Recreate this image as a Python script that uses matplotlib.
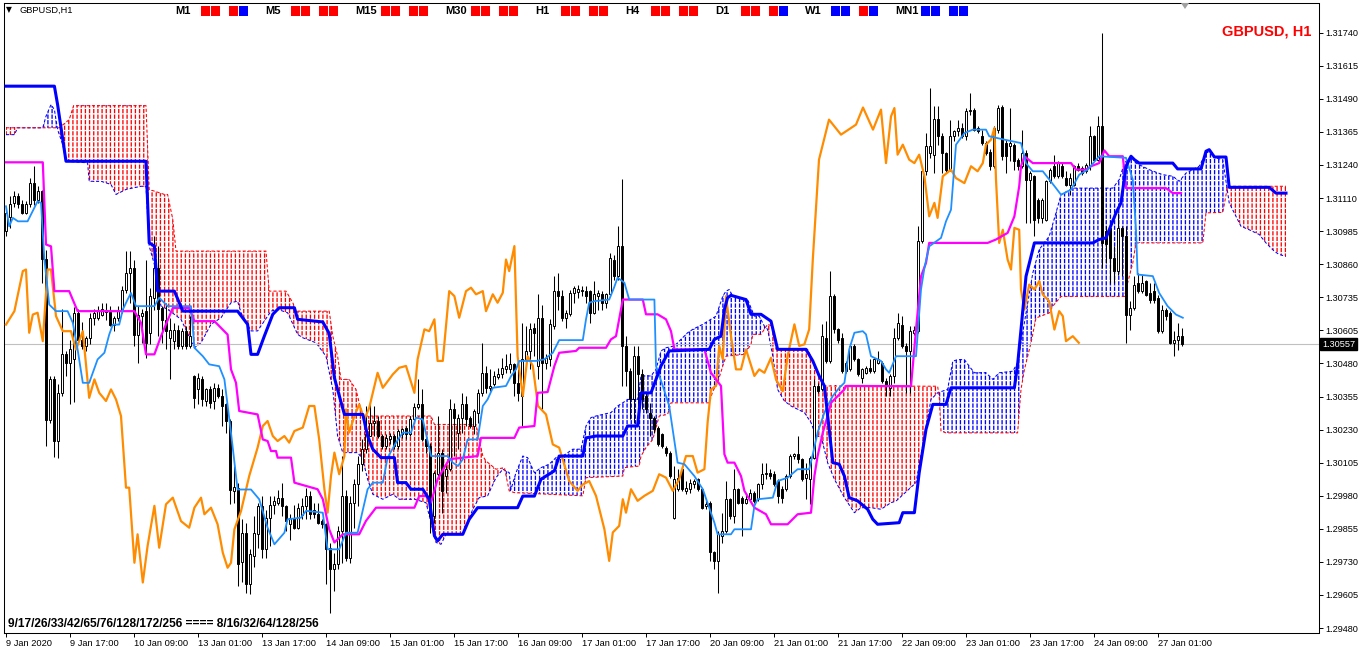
import numpy as np
import matplotlib
matplotlib.use("Agg")
import matplotlib.pyplot as plt
from matplotlib.patches import Polygon, Rectangle

W, H = 1366, 655
BASE = 1.29      # every series below is in pips above 1.29000
PIP = 0.0001

# ---- GBPUSD H1 candles, bar 0 = 9 Jan 2020 01:00 ----
opens = [
    198.6, 204.0, 209.4, 212.0, 209.0, 205.5, 209.0, 217.0, 210.6, 213.8,
    188.0, 127.0, 142.4, 119.0, 137.3, 152.0, 148.7, 150.0, 167.6, 157.5,
    155.0, 158.2, 165.8, 165.8, 167.0, 168.9, 168.0, 163.2, 165.8, 168.3,
    176.5, 182.8, 184.7, 159.4, 166.4, 168.3, 160.0, 173.3, 184.7, 169.5,
    165.1, 158.2, 157.0, 161.3, 155.0, 160.7, 155.0, 143.6, 138.6, 142.4,
    134.2, 138.6, 134.2, 139.2, 136.0, 132.9, 126.6, 100.0, 101.0, 73.0,
    84.2, 64.6, 75.4, 83.6, 94.4, 77.9, 89.9, 94.9, 95.6, 97.5,
    94.4, 87.4, 89.9, 86.1, 91.0, 94.4, 98.1, 93.0, 91.2, 88.6,
    87.4, 78.5, 70.3, 72.2, 84.8, 98.1, 74.7, 95.6, 102.5, 110.2,
    115.8, 121.0, 126.0, 126.6, 120.9, 117.1, 119.6, 120.9, 117.1, 121.5,
    124.0, 121.5, 127.4, 132.0, 132.9, 119.6, 117.1, 90.6, 106.4, 114.6,
    105.7, 108.3, 131.0, 122.2, 127.9, 132.9, 127.9, 124.7, 129.8, 137.3,
    144.9, 139.2, 140.5, 143.3, 144.3, 146.2, 146.2, 148.1, 141.1, 136.1,
    150.0, 153.2, 162.0, 147.5, 165.8, 148.7, 150.0, 162.6, 175.9, 174.0,
    165.8, 167.1, 175.3, 175.5, 176.0, 175.9, 175.9, 167.7, 174.0, 174.7,
    171.5, 174.7, 187.9, 181.6, 193.0, 155.1, 145.5, 134.8, 151.2, 144.3,
    136.1, 129.8, 127.9, 124.0, 121.5, 116.5, 114.6, 89.9, 100.7, 108.3,
    100.1, 100.7, 102.6, 104.5, 100.7, 94.4, 95.6, 76.7, 73.5, 82.9,
    84.8, 96.9, 90.5, 100.7, 97.5, 95.6, 96.9, 99.4, 96.9, 102.6,
    106.4, 106.7, 106.4, 103.8, 100.7, 100.7, 105.7, 113.3, 113.9, 112.1,
    105.1, 104.5, 112.7, 139.9, 138.6, 158.2, 149.4, 174.0, 161.4, 158.2,
    145.5, 146.2, 155.1, 150.0, 143.0, 144.9, 146.8, 145.5, 148.7, 148.7,
    141.7, 139.2, 143.6, 158.2, 163.2, 155.0, 153.1, 160.1, 160.7, 194.8,
    221.4, 228.4, 227.7, 241.2, 234.7, 228.3, 222.0, 234.7, 236.5, 237.8,
    234.7, 244.1, 244.7, 237.8, 234.7, 232.1, 228.9, 223.3, 237.2, 245.8,
    232.1, 231.0, 231.5, 225.8, 223.3, 228.3, 218.2, 219.5, 210.6, 203.7,
    203.0, 217.6, 223.3, 219.5, 223.3, 218.9, 216.3, 216.3, 223.3, 222.6,
    221.4, 223.3, 234.7, 225.8, 238.4, 198.6, 199.9, 188.5, 183.4, 199.9,
    197.0, 167.0, 169.5, 179.0, 175.9, 179.7, 175.2, 175.9, 173.3, 160.7,
    168.9, 167.6, 156.3, 157.5, 158.8,
]
highs = [
    208.0, 212.0, 214.0, 213.0, 210.6, 210.0, 219.0, 223.3, 215.7, 214.4,
    191.7, 143.6, 143.6, 140.5, 169.0, 153.2, 157.5, 170.0, 169.0, 164.0,
    158.8, 167.6, 169.0, 170.2, 171.4, 171.4, 170.2, 166.4, 170.2, 177.8,
    191.0, 191.0, 187.9, 170.2, 169.0, 187.9, 177.0, 196.7, 193.0, 170.2,
    171.4, 165.8, 163.9, 163.2, 162.0, 162.6, 166.4, 144.2, 144.9, 143.6,
    139.2, 139.9, 141.0, 140.5, 138.6, 133.5, 127.2, 109.5, 103.2, 89.3,
    88.0, 77.9, 90.6, 95.6, 98.1, 93.0, 98.1, 98.1, 100.6, 103.2,
    94.9, 91.2, 94.9, 95.6, 97.5, 101.3, 100.0, 95.6, 95.6, 89.3,
    88.0, 80.4, 76.6, 86.7, 113.3, 100.6, 98.1, 104.5, 113.3, 119.6,
    132.3, 133.0, 132.3, 128.5, 121.5, 121.5, 122.2, 121.5, 123.4, 124.0,
    124.7, 128.5, 133.5, 142.4, 138.6, 120.9, 118.3, 107.6, 128.5, 115.9,
    110.8, 134.8, 133.5, 129.1, 137.3, 136.1, 128.5, 131.0, 138.6, 156.3,
    147.5, 146.2, 145.5, 146.8, 150.6, 151.9, 152.5, 148.7, 146.2, 163.9,
    162.6, 163.9, 163.9, 174.7, 170.8, 151.9, 165.2, 181.6, 182.8, 176.5,
    168.9, 176.5, 177.8, 178.4, 177.8, 177.8, 176.5, 179.7, 176.5, 175.9,
    175.3, 190.4, 189.8, 200.6, 218.3, 158.8, 146.8, 155.1, 155.1, 146.2,
    137.3, 133.5, 128.5, 124.7, 122.2, 117.1, 115.2, 109.5, 108.3, 108.9,
    103.8, 104.5, 104.5, 105.1, 101.3, 96.2, 96.2, 77.3, 84.8, 91.8,
    103.8, 97.5, 108.3, 101.3, 98.1, 99.4, 100.7, 100.1, 103.2, 110.8,
    110.8, 108.3, 107.6, 104.5, 101.9, 106.4, 113.9, 114.6, 120.9, 112.7,
    110.8, 113.3, 142.4, 141.1, 163.3, 164.5, 183.5, 174.7, 162.0, 160.1,
    149.4, 155.7, 155.7, 150.6, 146.8, 147.5, 150.0, 150.6, 153.2, 149.4,
    143.0, 144.3, 162.0, 167.6, 166.4, 156.3, 162.6, 162.6, 200.5, 222.0,
    235.9, 253.0, 246.0, 246.0, 235.9, 228.9, 241.0, 237.2, 241.0, 239.7,
    245.4, 251.1, 245.4, 238.4, 237.2, 232.7, 229.7, 238.4, 246.7, 246.7,
    233.4, 245.4, 232.1, 226.4, 237.2, 229.6, 221.4, 220.1, 211.3, 211.3,
    218.2, 222.6, 227.7, 225.2, 224.5, 221.4, 220.7, 223.9, 224.5, 223.3,
    224.5, 238.4, 235.3, 242.2, 273.8, 200.5, 201.1, 192.9, 205.6, 200.5,
    200.5, 172.1, 181.6, 182.8, 182.2, 180.3, 179.0, 179.0, 174.6, 170.8,
    169.5, 168.3, 160.7, 163.9, 161.9,
]
lows = [
    197.0, 200.0, 208.0, 207.5, 205.0, 205.0, 208.0, 208.7, 209.4, 179.0,
    117.0, 126.0, 113.0, 112.7, 136.0, 143.6, 132.9, 134.0, 156.0, 153.8,
    153.0, 155.7, 163.0, 165.0, 166.4, 165.0, 162.6, 160.7, 164.5, 167.6,
    175.2, 171.4, 155.0, 148.7, 156.3, 150.6, 156.0, 168.9, 158.8, 156.3,
    153.8, 142.4, 154.0, 153.8, 153.8, 153.8, 154.4, 131.6, 132.9, 132.2,
    132.2, 131.6, 131.0, 135.4, 124.7, 122.2, 95.0, 95.5, 64.0, 65.3,
    61.4, 60.8, 71.0, 78.5, 74.7, 74.7, 79.2, 91.2, 94.9, 90.6,
    84.8, 81.6, 85.5, 85.5, 89.3, 89.3, 89.3, 89.9, 87.4, 86.0,
    64.6, 53.9, 62.0, 70.3, 72.8, 73.5, 72.8, 86.1, 94.4, 107.6,
    114.6, 120.9, 120.9, 120.3, 115.8, 115.8, 117.7, 115.8, 115.8, 120.3,
    119.6, 120.9, 126.0, 131.0, 119.0, 114.6, 84.2, 88.0, 105.7, 91.8,
    99.4, 107.6, 113.3, 115.9, 122.2, 124.7, 124.0, 121.5, 126.0, 136.1,
    137.3, 137.9, 139.9, 142.4, 143.0, 144.9, 144.9, 136.1, 134.2, 124.7,
    147.5, 146.2, 151.2, 142.4, 131.0, 146.2, 147.5, 161.4, 168.9, 164.5,
    162.0, 166.4, 171.5, 173.4, 174.0, 171.5, 163.9, 167.1, 168.9, 168.9,
    169.5, 174.0, 180.3, 180.3, 139.9, 139.9, 127.2, 126.0, 131.0, 131.0,
    129.8, 120.9, 122.2, 117.1, 116.5, 113.3, 105.1, 89.3, 100.1, 100.1,
    98.8, 99.4, 101.3, 100.1, 93.1, 93.1, 73.5, 70.3, 61.5, 80.4,
    84.2, 89.3, 88.0, 95.0, 83.0, 95.0, 96.2, 95.6, 96.2, 100.7,
    104.5, 104.5, 101.9, 95.6, 95.6, 100.1, 105.1, 112.1, 110.8, 103.8,
    96.9, 95.0, 112.1, 137.3, 137.9, 148.7, 148.7, 160.1, 156.3, 144.9,
    144.9, 145.5, 149.4, 143.6, 141.1, 144.3, 144.9, 144.9, 148.1, 141.1,
    136.1, 136.1, 141.1, 157.5, 154.4, 137.3, 137.3, 159.4, 160.1, 194.2,
    220.1, 226.4, 220.7, 231.5, 220.7, 220.7, 221.4, 232.7, 234.7, 234.0,
    233.4, 242.9, 236.5, 235.9, 231.5, 227.7, 222.0, 222.6, 235.9, 225.8,
    220.7, 225.2, 222.0, 222.0, 222.6, 201.8, 201.8, 196.7, 201.8, 201.8,
    202.4, 217.0, 218.9, 218.9, 218.9, 215.7, 212.5, 215.7, 221.4, 220.1,
    220.7, 222.0, 225.2, 225.2, 184.7, 186.6, 179.0, 179.0, 182.2, 181.6,
    156.3, 161.3, 168.9, 175.2, 175.2, 173.9, 171.4, 171.4, 160.1, 160.1,
    165.1, 155.7, 151.2, 153.7, 155.0,
]
closes = [
    205.6, 209.0, 212.0, 209.0, 205.5, 209.0, 217.0, 210.6, 213.8, 188.0,
    127.0, 142.4, 119.0, 137.3, 152.0, 148.7, 153.8, 167.6, 157.5, 155.0,
    158.2, 165.8, 167.6, 168.3, 169.2, 168.0, 163.2, 165.8, 168.3, 176.5,
    182.8, 184.7, 159.4, 167.0, 167.6, 156.3, 173.9, 184.7, 169.2, 165.1,
    160.7, 161.3, 161.3, 155.0, 160.7, 155.0, 158.8, 135.4, 143.0, 134.8,
    138.6, 133.5, 139.2, 136.0, 132.2, 126.6, 100.6, 101.5, 72.2, 84.2,
    64.6, 76.0, 84.2, 94.4, 77.9, 89.9, 94.9, 96.2, 97.5, 94.4,
    88.6, 89.9, 86.1, 93.7, 94.4, 98.1, 91.2, 91.2, 88.0, 87.4,
    77.9, 70.3, 72.2, 84.8, 98.1, 74.7, 95.6, 102.5, 110.2, 115.8,
    121.5, 126.0, 126.6, 120.9, 117.1, 120.3, 120.9, 117.1, 122.8, 123.6,
    121.5, 127.4, 132.0, 132.9, 119.6, 117.1, 90.6, 107.0, 114.6, 100.1,
    108.3, 131.0, 127.9, 127.9, 132.9, 127.2, 124.7, 130.4, 137.3, 144.9,
    139.2, 139.9, 143.6, 144.6, 146.8, 147.5, 148.1, 141.1, 137.3, 150.0,
    153.2, 161.4, 160.1, 165.8, 148.7, 150.6, 163.3, 175.9, 174.0, 165.8,
    167.7, 175.3, 177.2, 176.6, 176.5, 174.0, 167.7, 174.7, 175.3, 171.5,
    174.7, 188.6, 181.6, 193.0, 155.1, 145.5, 134.8, 151.2, 144.3, 134.8,
    131.0, 127.9, 123.4, 117.7, 117.1, 114.6, 105.7, 104.5, 105.1, 100.7,
    101.3, 103.2, 103.8, 100.7, 93.7, 95.0, 76.7, 73.5, 83.6, 84.8,
    96.9, 90.5, 100.7, 95.6, 95.6, 96.9, 99.4, 96.2, 102.6, 106.4,
    107.0, 105.7, 102.6, 98.1, 97.5, 105.7, 113.3, 113.9, 112.1, 104.5,
    106.4, 112.7, 139.9, 137.9, 158.8, 149.4, 174.0, 161.4, 157.5, 145.5,
    148.7, 155.1, 150.0, 144.3, 146.2, 146.8, 145.5, 150.0, 150.2, 141.7,
    139.9, 143.6, 158.2, 163.9, 155.0, 153.1, 160.7, 161.3, 194.8, 221.4,
    230.9, 231.0, 241.2, 234.7, 228.3, 222.0, 234.7, 236.5, 237.8, 234.7,
    244.1, 244.7, 237.2, 236.5, 232.1, 228.3, 223.3, 237.8, 245.4, 227.1,
    227.1, 232.1, 225.2, 223.3, 228.3, 218.2, 220.7, 203.0, 203.7, 210.6,
    217.6, 222.0, 219.5, 224.5, 219.5, 216.3, 218.9, 223.3, 222.0, 220.7,
    223.9, 234.7, 225.8, 238.4, 194.2, 193.6, 188.5, 183.4, 199.9, 197.0,
    167.0, 169.5, 178.4, 175.9, 179.0, 174.6, 172.7, 172.7, 160.7, 168.9,
    166.4, 156.3, 157.5, 158.8, 155.7,
]

# ---- indicator lines, vertices as (bar index, pips) ----
blue_x = [0, 12.1, 12.9, 15, 35, 35.8, 37.1, 37.9, 42.1, 44.2, 57.9, 60.4, 61.25, 62.9, 64.6,
          66.7, 68.3, 72.1, 72.9, 79.2, 80.8, 82.1, 84.6, 89.2, 90.4, 91.7, 93.75, 97.1, 97.9,
          100, 101.25, 104.2, 105.8, 107.1, 107.9, 109.2, 114.2, 115.8, 117.9, 127.9, 129.2,
          132.1, 133.75, 137.1, 138.3, 144.2, 145, 147.5, 154.2, 155.4, 157.9, 158.75, 161.25,
          163.75, 165.8, 175.8, 177.1, 178.75, 179.6, 180.4, 181.25, 185, 186.25, 188.75,
          191.25, 192.9, 200, 201.7, 203.3, 204.6, 205.8, 206.7, 208.3, 209.6, 210.8, 212.9,
          215.4, 216.7, 217.9, 223.3, 224.2, 227.1, 228.3, 230, 231.7, 235, 236.25, 252.1,
          252.9, 253.75, 255, 257.1, 271.7, 273.3, 275, 277.5, 278.75, 280, 281.25, 282.1,
          283.3, 291.7, 292.9, 298.75, 300, 300.8, 302.1, 305, 305.8, 315.8, 317.5, 320]
blue_y = [253.7, 253.7, 246.7, 225.2, 225.2, 194.2, 193.0, 175.9, 175.9, 168.3, 168.3, 163.3,
          151.9, 151.9, 158.9, 167.1, 169.6, 169.6, 165.2, 164.2, 159.8, 143.0, 129.1, 129.1,
          120.9, 115.9, 112.7, 112.7, 103.2, 103.2, 100.7, 100.7, 96.9, 83.0, 81.1, 83.6, 83.6,
          89.3, 93.7, 93.7, 98.1, 98.1, 104.5, 107.7, 113.3, 113.3, 120.2, 120.9, 120.9, 124.7,
          124.7, 137.3, 137.3, 147.5, 153.2, 153.8, 157.6, 158.8, 168.9, 173.4, 174.3, 172.7,
          167.1, 167.1, 164.5, 153.8, 153.8, 149.4, 143.7, 139.9, 123.4, 110.8, 110.2, 105.7,
          97.5, 96.3, 93.1, 89.3, 87.4, 88.0, 91.8, 91.8, 107.0, 123.4, 132.9, 132.9, 139.2,
          139.2, 148.0, 161.3, 181.5, 194.2, 194.2, 195.5, 196.1, 205.6, 209.4, 223.3, 227.1,
          225.8, 224.5, 224.5, 222.3, 222.3, 229.0, 229.6, 226.8, 226.8, 215.3, 215.3, 213.1,
          213.1]

magenta_x = [0, 9.2, 10, 11.25, 12.1, 15.8, 17.9, 32.1, 33.75, 35, 37.1, 38.75, 41.7, 45.8,
             47.1, 52.1, 55.4, 56.25, 57.5, 58.3, 62.9, 64.2, 65.4, 66.25, 67.5, 67.9, 71.25,
             72.1, 77.9, 79.2, 80.8, 82.1, 84.2, 88.3, 90, 92.5, 102.1, 103.3, 105, 106.25,
             107.9, 110.8, 117.9, 118.75, 127.1, 128.3, 132.1, 132.9, 135.4, 137.1, 138.3,
             142.5, 143.3, 150, 151.25, 152.5, 154.2, 159.2, 160, 162.9, 165, 166.25, 167.1,
             174.6, 176.25, 178.75, 179.6, 180.4, 182.1, 183.75, 184.6, 187.1, 190, 191.25,
             195.4, 197.9, 201.25, 202.1, 202.9, 204.2, 205.4, 206.25, 209.6, 210, 226.25,
             227.5, 228.75, 230, 230.8, 245.4, 247.5, 250.4, 252.1, 253.3, 253.75, 254.6,
             256.7, 266.25, 267.5, 270, 271.25, 273.3, 274.6, 275.8, 279.2, 280, 290, 291.7,
             293.75]
magenta_y = [224.8, 224.8, 193.6, 192.9, 175.9, 175.9, 168.3, 168.3, 163.9, 151.9, 151.9,
             158.8, 169.5, 169.5, 164.5, 164.5, 159.4, 146.2, 141.1, 130.4, 129.1, 119.6,
             119.0, 115.2, 115.2, 112.7, 112.7, 103.2, 100.7, 96.9, 85.5, 80.5, 83.6, 83.6,
             88.7, 93.7, 93.7, 98.1, 98.1, 95.6, 104.5, 112.1, 113.3, 120.2, 120.2, 124.1,
             124.7, 137.3, 137.6, 147.5, 152.5, 153.2, 154.4, 154.4, 157.6, 158.8, 172.7,
             172.7, 167.1, 167.1, 165.2, 160.7, 153.8, 153.8, 144.9, 139.9, 114.0, 110.8,
             110.8, 105.7, 100.1, 93.7, 91.2, 87.4, 87.4, 91.2, 91.8, 105.7, 113.3, 122.2,
             128.5, 133.5, 138.6, 139.9, 139.8, 161.3, 181.5, 186.6, 194.2, 194.2, 195.5,
             198.0, 204.3, 215.7, 223.3, 227.1, 224.5, 224.5, 222.0, 222.0, 223.3, 224.5,
             229.3, 227.1, 227.1, 215.0, 215.0, 213.1, 213.1]

tenkan_x = [0, 0.8, 1.7, 3, 5.4, 7.9, 8.75, 9.6, 10.8, 12.5, 15.4, 16.7, 17.9, 19.2, 20.8,
            22.9, 24.6, 25.8, 26.7, 28.3, 29.2, 30.4, 31.25, 32.5, 37.1, 38.3, 40.4, 46.25,
            47.1, 49.2, 50.8, 53.3, 54.6, 56.25, 57.9, 61.25, 63.3, 65.4, 67.1, 69.6, 70.4,
            73.75, 75, 79.2, 80.4, 83.3, 85, 87.9, 90.4, 91.7, 94.2, 95.4, 97.5, 99.2, 101.25,
            102.5, 104.2, 106.25, 110.4, 111.7, 113, 114.2, 115.4, 117.9, 119.2, 120.4, 121.7,
            125, 126.25, 127.5, 128.3, 132.5, 134.6, 136.7, 138.3, 144.2, 145, 145.8, 147.1,
            150.8, 152, 152.9, 154.6, 155.8, 162.1, 162.5, 164.2, 165.8, 167.9, 169.6, 172.1,
            174.2, 177.1, 177.9, 181.25, 182.1, 186.25, 187.1, 187.9, 191.7, 192.9, 195.4,
            197.9, 200.8, 201.7, 202.9, 204.6, 205.8, 206.7, 208.3, 209.6, 210.8, 212.1, 214.2,
            215, 216.25, 218.75, 220, 220.8, 222.5, 227.5, 228.75, 229.6, 230.8, 233.75, 235,
            236.25, 236.7, 237.5, 239.6, 241.7, 245, 245.8, 249.6, 253.75, 255, 256.7, 259.2,
            262.5, 263.75, 266.25, 268.3, 270.4, 273.3, 280, 281.7, 282.5, 282.9, 286.7, 288.3,
            290.4, 292.5, 294.2]
tenkan_y = [208.1, 200.5, 203.7, 202.4, 202.4, 210.0, 209.4, 187.9, 170.8, 168.3, 168.3,
            163.9, 153.8, 141.1, 141.1, 150.0, 152.5, 159.4, 163.2, 163.2, 168.9, 172.7, 175.2,
            170.2, 170.2, 173.4, 170.2, 170.2, 154.4, 151.2, 148.1, 147.4, 142.4, 122.2, 100.6,
            100.6, 96.9, 86.1, 79.8, 84.2, 89.3, 89.9, 92.5, 91.8, 77.9, 77.9, 84.2, 84.2,
            100.7, 103.2, 103.2, 112.7, 118.4, 122.2, 122.2, 127.9, 127.2, 113.3, 113.3, 110.8,
            109.5, 112.1, 119.6, 119.6, 132.3, 134.8, 139.2, 139.9, 143.6, 146.2, 149.4, 149.4,
            150.0, 152.5, 157.3, 157.3, 165.2, 171.5, 172.1, 172.7, 177.2, 181.0, 179.1, 172.7,
            172.7, 147.5, 139.9, 132.3, 110.8, 110.2, 105.7, 100.7, 88.0, 83.6, 83.6, 85.5, 85.5,
            94.4, 96.9, 97.5, 103.8, 105.1, 108.3, 108.3, 114.0, 122.2, 129.8, 133.5, 136.1,
            139.2, 141.1, 153.8, 160.1, 160.7, 159.5, 151.2, 149.4, 146.2, 144.9, 151.2, 151.2,
            176.5, 184.7, 192.9, 196.1, 202.4, 206.8, 215.7, 231.5, 235.9, 237.2, 237.2, 234.7,
            233.4, 232.1, 224.5, 221.4, 221.4, 215.0, 212.5, 214.4, 220.1, 222.0, 227.1, 226.5,
            218.2, 199.2, 182.2, 181.6, 175.2, 170.2, 167.0, 165.8]

chikou_x = [0, 2.1, 4.2, 5, 5.8, 6.7, 7.9, 9.2, 10.4, 11.25, 12.5, 14.2, 16.25, 17.5, 19.2,
            20.8, 22.1, 23.3, 25, 26.25, 27.5, 28.75, 30, 30.8, 32.1, 32.9, 34.2, 35.4, 37.1,
            38.3, 40, 41.7, 43.75, 45.8, 47.1, 48.75, 49.6, 51.25, 52.9, 54.2, 55.4, 56.25,
            57.1, 58.75, 60.8, 62.9, 64.2, 65.4, 66.7, 67.9, 69.6, 70.8, 72.1, 74.2, 75.8, 77.1,
            78.3, 79.6, 80.4, 81.25, 82.1, 83.3, 84.6, 85, 85.8, 87.1, 88.3, 89.6, 90.8, 92.9,
            94.2, 96.7, 98.3, 100, 102.1, 102.9, 104.6, 105.8, 107.1, 107.9, 109.2, 110.8,
            112.1, 113.3, 115, 116.25, 117.5, 119.2, 120, 121.7, 122.9, 124.2, 125, 125.8,
            127.1, 127.9, 129.2, 130.4, 131.7, 133, 135, 136.7, 138.3, 140.8, 142.9, 144.2,
            145.8, 147.5, 149.6, 150.8, 151.7, 153.3, 154.2, 155, 156.25, 157.9, 159.6, 161.7,
            163.3, 165, 166.7, 168.3, 170, 171.7, 172.9, 174.6, 175.4, 176.25, 177.5, 178.3,
            179.2, 180, 181.25, 182.5, 183.75, 185, 187.1, 188.3, 189.6, 191.25, 192.5, 194.2,
            195.4, 197.1, 198.3, 199.6, 200.8, 201.7, 203.25, 205.75, 208.75, 212.5, 214.25,
            216.75, 218.75, 220, 221.25, 222.1, 222.9, 224.2, 225.8, 227.1, 228.3, 229.6, 230.8,
            232.1, 232.9, 234.2, 236.25, 237.5, 239.6, 241.25, 242.9, 244.2, 245, 246.25, 247.1,
            247.5, 248.3, 249.2, 250.4, 251.25, 252.1, 253.3, 253.75, 254.6, 255.8, 257.1,
            258.3, 259.2, 260.8, 262.1, 263.3, 264.2, 265, 266.7, 268.2]
chikou_y = [163.2, 168.3, 183.5, 184.1, 160.1, 167.0, 167.7, 156.9, 184.1, 184.1, 166.4,
            160.7, 160.7, 153.7, 160.7, 135.4, 142.4, 137.3, 134.2, 138.6, 134.8, 128.5, 101.3,
            101.3, 72.8, 83.6, 65.3, 79.2, 94.4, 78.5, 95.0, 97.5, 88.6, 86.1, 93.7, 97.5, 91.2,
            93.7, 87.4, 76.6, 70.9, 72.8, 85.5, 92.4, 105.7, 116.5, 124.7, 126.6, 120.9, 119.0,
            120.9, 118.4, 122.8, 124.1, 132.3, 132.3, 119.6, 100.7, 91.8, 105.7, 114.6, 106.4,
            113.3, 131.0, 122.2, 128.5, 132.9, 127.2, 131.6, 144.9, 139.2, 144.3, 146.8, 147.5,
            137.3, 150.0, 161.4, 160.7, 165.2, 149.4, 149.4, 175.9, 174.0, 165.8, 175.9, 177.2,
            174.7, 175.9, 168.3, 174.7, 171.5, 175.3, 187.9, 183.5, 193.0, 151.2, 136.1, 151.2,
            147.5, 132.3, 129.1, 117.7, 116.5, 103.8, 100.1, 102.5, 103.8, 98.2, 85.5, 73.5,
            84.3, 86.8, 96.9, 91.8, 100.7, 96.3, 98.2, 100.1, 106.4, 105.1, 100.1, 104.5, 113.3,
            113.3, 107.0, 108.3, 126.0, 138.6, 139.9, 155.1, 150.0, 174.0, 158.8, 146.2, 146.2,
            153.8, 143.7, 146.2, 144.9, 150.6, 142.4, 137.9, 151.2, 163.3, 155.1, 155.7, 161.4,
            187.9, 225.8, 241.0, 235.3, 239.1, 245.6, 237.2, 244.8, 224.5, 242.2, 245.4, 227.7,
            231.5, 225.8, 224.5, 227.7, 219.5, 204.3, 209.4, 203.7, 219.5, 222.0, 218.8, 216.9,
            223.3, 221.4, 224.5, 231.5, 233.4, 237.8, 218.2, 194.2, 199.2, 187.9, 184.1, 199.9,
            199.2, 176.5, 168.9, 178.4, 176.5, 179.7, 174.6, 172.1, 161.3, 168.3, 166.4, 156.9,
            158.8, 156.3]

span_a_x = [0, 2.1, 2.9, 9.2, 10, 11.25, 12.1, 12.9, 14.2, 15, 20.4, 20.8, 23.75, 26.25, 27.5,
            30, 33.75, 35, 35.8, 37.1, 37.5, 38.75, 40.4, 43.75, 47.1, 48.75, 51.25, 53.75,
            56.25, 57.9, 58.75, 61.25, 62.9, 65.4, 66.25, 67.9, 70.4, 72.9, 74.2, 77.5, 80,
            81.7, 82.9, 84.2, 87.9, 89.2, 90.4, 91.7, 94.2, 96.7, 98.3, 102.1, 105, 106.25,
            107.5, 108.75, 110, 114.2, 116.7, 118.3, 120.4, 122.5, 124.2, 125.8, 126.25, 127.5,
            129.2, 130.4, 132.1, 133.75, 135.8, 137.5, 139.2, 141.7, 143.75, 145, 146.25, 147.5,
            151.25, 152.9, 154.2, 155.4, 157.9, 158.75, 161.25, 162.5, 163.75, 165, 167.1,
            170.4, 171.7, 174.2, 176.25, 177.5, 179.2, 180, 180.8, 181.7, 185.4, 187.1, 188.3,
            189.6, 190.4, 191.7, 192.9, 194.6, 196.25, 199.6, 201.25, 202.5, 203.75, 205.4,
            207.1, 209.6, 212.1, 213.75, 216.25, 218.75, 221.25, 222.5, 227.5, 229.6, 231.25,
            232.9, 235.4, 236.7, 237.9, 239.6, 240.8, 242.1, 245, 246.7, 248.3, 251.7, 252.9,
            253.75, 255, 256.7, 258.3, 260.8, 262.5, 263.75, 266.7, 276.7, 278.3, 279.6, 281.25,
            282.5, 285.8, 289.2, 291.7, 293.3, 295, 298.3, 300, 301.25, 302.5, 304.2, 305.8,
            308.75, 310.8, 313.3, 315, 317.1, 318.3, 320]
span_a_y = [235.3, 235.3, 237.9, 237.9, 242.3, 246.7, 244.8, 237.2, 231.5, 225.2, 224.6,
            217.6, 217.6, 216.4, 212.6, 214.5, 215.7, 215.7, 193.0, 186.0, 180.3, 170.2, 169.0,
            165.2, 154.4, 156.3, 163.3, 165.8, 171.5, 172.1, 167.7, 160.8, 160.8, 166.4, 168.3,
            169.0, 167.7, 159.5, 158.2, 156.3, 151.2, 138.6, 120.9, 114.6, 114.6, 112.1, 104.5,
            98.8, 96.9, 98.8, 96.9, 96.9, 95.6, 88.0, 80.5, 79.8, 83.6, 83.6, 93.1, 97.5, 98.2,
            105.1, 108.3, 107.0, 100.7, 107.0, 113.3, 112.7, 107.0, 108.9, 110.2, 112.7, 113.3,
            115.9, 115.9, 124.7, 127.9, 128.5, 129.8, 132.3, 133.5, 134.8, 134.8, 143.7, 143.7,
            146.2, 153.2, 154.4, 155.1, 160.1, 161.4, 163.3, 165.2, 166.4, 174.0, 175.9, 176.5,
            174.0, 172.7, 166.4, 166.4, 162.6, 161.4, 151.2, 138.6, 134.2, 132.3, 129.8, 126.0,
            120.9, 120.9, 110.8, 104.5, 97.5, 91.8, 93.7, 93.7, 93.1, 95.6, 96.2, 103.2, 120.9,
            134.8, 137.3, 138.6, 149.3, 149.9, 149.9, 147.4, 144.9, 144.9, 142.4, 144.9, 145.5,
            148.7, 156.3, 167.6, 182.8, 191.7, 196.7, 205.6, 212.5, 215.0, 215.0, 218.2, 224.5,
            227.1, 224.5, 222.0, 220.1, 219.5, 217.6, 220.7, 223.3, 228.3, 229.0, 226.4, 225.8,
            209.4, 200.5, 199.2, 197.4, 194.2, 191.0, 189.8, 189.1]

span_b_x = [0, 13.3, 15.8, 16.9, 35, 35.8, 39.6, 40.4, 41.7, 42.5, 65, 65.8, 70, 71.7, 72.5,
            80.8, 81.7, 82.9, 83.75, 85.8, 87.5, 88.3, 89.2, 106.25, 107.1, 117.5, 119.2, 120,
            122.5, 124.6, 125.8, 127.1, 144.2, 145, 154.2, 154.6, 158.3, 158.75, 160, 161.7,
            162.5, 163.3, 165.4, 166.25, 175.8, 176.7, 177.9, 179.2, 180, 184.6, 186.25, 186.7,
            188.75, 190.4, 191.7, 192.5, 200.4, 201.7, 203.3, 204.6, 232.9, 233.3, 233.75, 235,
            252.9, 253.75, 254.6, 256.25, 257.5, 260.8, 261.7, 263.75, 279.6, 280.4, 281.7,
            282.5, 299.2, 300, 304.2, 305.4, 320]
span_b_y = [237.9, 237.9, 241.0, 246.3, 246.3, 214.5, 212.6, 212.6, 203.1, 191.1, 191.1,
            175.9, 175.9, 171.5, 168.3, 168.3, 158.8, 151.2, 142.4, 142.4, 138.6, 133.5, 128.5,
            128.5, 125.3, 125.3, 113.3, 111.4, 108.3, 108.9, 100.1, 99.4, 98.2, 105.1, 105.7,
            108.9, 109.5, 113.3, 116.5, 119.6, 124.1, 128.5, 129.1, 133.5, 133.5, 137.9, 141.1,
            147.5, 151.2, 151.9, 155.7, 159.5, 159.5, 163.3, 162.6, 153.8, 153.8, 149.4, 143.7,
            139.9, 139.8, 136.0, 122.8, 122.1, 122.1, 138.6, 146.1, 156.3, 165.7, 167.6, 170.2,
            173.9, 173.9, 179.0, 186.6, 194.2, 194.2, 205.6, 205.8, 215.7, 215.7]

tick_bars = [0, 16, 32, 48, 64, 80, 96, 112, 128, 144, 160, 176, 192, 208, 224, 240, 256, 272, 288]
tick_labels = ["9 Jan 2020", "9 Jan 17:00", "10 Jan 09:00", "13 Jan 01:00", "13 Jan 17:00",
               "14 Jan 09:00", "15 Jan 01:00", "15 Jan 17:00", "16 Jan 09:00", "17 Jan 01:00",
               "17 Jan 17:00", "20 Jan 09:00", "21 Jan 01:00", "21 Jan 17:00", "22 Jan 09:00",
               "23 Jan 01:00", "23 Jan 17:00", "24 Jan 09:00", "27 Jan 01:00"]
price_labels = ["1.29480", "1.29605", "1.29730", "1.29855", "1.29980", "1.30105", "1.30230",
                "1.30355", "1.30480", "1.30605", "1.30735", "1.30860", "1.30985", "1.31110",
                "1.31240", "1.31365", "1.31490", "1.31615", "1.31740"]

timeframes = ["M1", "M5", "M15", "M30", "H1", "H4", "D1", "W1", "MN1"]
tf_signals = ["RRRB", "RRRR", "RRRR", "RRRR", "RRRR", "RRRR", "RRRB", "BBRB", "BBBB"]


def px(v):
    return BASE + np.asarray(v, dtype=float) * PIP


plt.rcParams['font.family'] = ['Liberation Sans', 'DejaVu Sans']
plt.rcParams['hatch.linewidth'] = 0.95

fig = plt.figure(figsize=(W / 100, H / 100), dpi=100)
fig.patch.set_facecolor('white')
ax = fig.add_axes([3.5 / W, 22 / H, 1315 / W, 630.5 / H])
ax.set_xlim(-0.625, 328.125)
ylo, yhi = 1.294613, 1.318546
ax.set_ylim(ylo, yhi)

# ---- cloud: vertical dotted hatch, red where span B on top, blue where span A on top ----
pa = np.column_stack([span_a_x, px(span_a_y)])
pb = np.column_stack([span_b_x, px(span_b_y)])
cloud = np.vstack([pa, pb[::-1]])
below_b = np.vstack([pb, [[pb[-1, 0], ylo - 0.01], [pb[0, 0], ylo - 0.01]]])
above_b = np.vstack([pb, [[pb[-1, 0], yhi + 0.01], [pb[0, 0], yhi + 0.01]]])
for clip, col in ((below_b, '#ff0000'), (above_b, '#0000ff')):
    hp = Polygon(cloud, closed=True, facecolor='none', edgecolor=col, lw=0,
                 hatch='||||', zorder=1)
    ax.add_patch(hp)
    hp.set_clip_path(Polygon(clip, closed=True, transform=ax.transData))
ax.add_patch(Polygon(cloud, closed=True, facecolor='none', edgecolor='white', lw=0,
                     hatch='---', zorder=1.2))
ax.plot(span_a_x, px(span_a_y), color='#0000ff', lw=0.75, ls=(0, (3, 2)), zorder=1.5)
ax.plot(span_b_x, px(span_b_y), color='#ff0000', lw=0.75, ls=(0, (3, 2)), zorder=1.5)

# current bid line
last = BASE + closes[-1] * PIP
ax.axhline(last, color='#c0c0c0', lw=0.8, zorder=1.8)

# ---- candles ----
bars = np.arange(len(closes))
o, h, l, c = px(opens), px(highs), px(lows), px(closes)
ax.vlines(bars, l, h, color='black', lw=0.75, zorder=3)
up = c >= o
body_lo = np.minimum(o, c)
body_h = np.maximum(np.abs(c - o), 0.000005)
ax.bar(bars[up], body_h[up], bottom=body_lo[up], width=0.55, color='white',
       edgecolor='black', lw=0.7, zorder=3.5)
ax.bar(bars[~up], body_h[~up], bottom=body_lo[~up], width=0.55, color='black',
       edgecolor='black', lw=0.7, zorder=3.5)

# ---- indicator lines ----
ax.plot(chikou_x, px(chikou_y), color='#ff8c00', lw=1.6, zorder=4)
ax.plot(magenta_x, px(magenta_y), color='#ff00ff', lw=1.6, zorder=4.2)
ax.plot(tenkan_x, px(tenkan_y), color='#1e90ff', lw=1.3, zorder=4.4)
ax.plot(blue_x, px(blue_y), color='#0000ff', lw=2.2, zorder=4.6)

# ---- axes ----
for s in ax.spines.values():
    s.set_color('black')
    s.set_linewidth(0.75)
yticks = np.linspace(1.2948, 1.3174, len(price_labels))
ax.yaxis.tick_right()
ax.set_yticks(yticks)
ax.set_yticklabels(price_labels)
ax.tick_params(axis='y', direction='out', length=3, width=0.7, pad=2, labelsize=6.6)
ax.set_xticks(tick_bars)
ax.set_xticklabels(tick_labels, ha='left')
ax.tick_params(axis='x', direction='out', length=3, width=0.7, pad=1.5, labelsize=6.7)
for lab in ax.get_xticklabels():
    lab.set_x(lab.get_position()[0])

ax.annotate(f"{last:.5f}", xy=(1.0, last), xycoords=('axes fraction', 'data'),
            xytext=(2.6, 0), textcoords='offset points', ha='left', va='center',
            fontsize=6.6, color='white', annotation_clip=False,
            bbox=dict(boxstyle='square,pad=0.18', fc='black', ec='black'))

# ---- texts and multi-timeframe panel ----
fig.text(6 / W, 1 - 10 / H, "\u25BC", fontsize=5.5, va='center', ha='left',
         family=['DejaVu Sans'])
fig.text(19 / W, 1 - 10 / H, "GBPUSD,H1", fontsize=6.7, va='center', ha='left')
for k, (tf, sig) in enumerate(zip(timeframes, tf_signals)):
    x0 = 175 + 90 * k
    fig.text(x0 / W, 1 - 11 / H, tf, fontsize=8, fontweight='bold', va='center', ha='left')
    for j, off in enumerate((26, 36, 53.5, 63.5)):
        col = '#ff0000' if sig[j] == 'R' else '#0000ff'
        fig.add_artist(Rectangle((x0 + off, H - 16), 9, 10, transform=None,
                                 facecolor=col, edgecolor='none'))
fig.add_artist(Polygon([[1181, H - 3], [1189, H - 3], [1185, H - 9]], closed=True,
                       transform=None, facecolor='#a0a0a0', edgecolor='none'))
fig.text(1311 / W, 1 - 32 / H, "GBPUSD, H1", color='#ff0000', fontsize=10.5,
         fontweight='bold', ha='right', va='center')
fig.text(8 / W, 1 - 624 / H, "9/17/26/33/42/65/76/128/172/256 ==== 8/16/32/64/128/256",
         fontsize=8.6, fontweight='bold', ha='left', va='center')

fig.savefig("out.png", dpi=100, facecolor='white')
